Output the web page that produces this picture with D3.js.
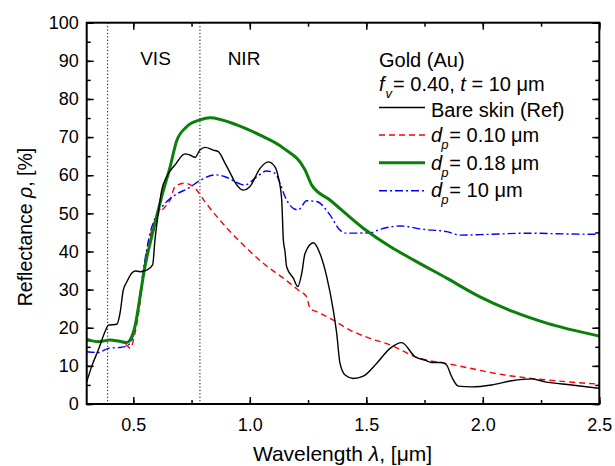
<!DOCTYPE html>
<html>
<head>
<meta charset="utf-8">
<script src="https://cdn.jsdelivr.net/npm/d3@7"></script>
<style>
  body { margin: 0; background: #fff; }
  svg { font-family: "Liberation Sans", Arial, sans-serif; }
</style>
</head>
<body>
<svg id="chart"></svg>
<script>
// wavelength (um) and reflectance (%)
const wlSkin = [0.3, 0.321, 0.35, 0.379, 0.393, 0.429, 0.443, 0.457, 0.472, 0.493, 0.507, 0.529, 0.557, 0.583, 0.593, 0.607, 0.622, 0.643, 0.679, 0.722, 0.743, 0.765, 0.786, 0.808, 0.843, 0.865, 0.894, 0.915, 0.936, 0.972, 1.0, 1.044, 1.079, 1.108, 1.122, 1.137, 1.144, 1.151, 1.158, 1.187, 1.206, 1.223, 1.237, 1.273, 1.301, 1.33, 1.358, 1.373, 1.387, 1.409, 1.444, 1.487, 1.545, 1.602, 1.652, 1.709, 1.752, 1.781, 1.824, 1.845, 1.866, 1.895, 1.952, 2.038, 2.124, 2.21, 2.267, 2.381, 2.5];
const rSkin = [5.8, 9.8, 14.2, 19, 20.7, 20.9, 23.8, 29.9, 32, 34.3, 34.9, 34.7, 35.1, 36.5, 43, 50, 56.1, 59.6, 62.7, 65.6, 65.3, 64.7, 66.6, 67.3, 66.6, 66.2, 63.1, 60.7, 58.2, 56.1, 57, 61.8, 63.5, 62.2, 59.6, 53.5, 43, 40, 36, 33, 30.8, 34.3, 39.5, 42.3, 39.5, 33.4, 24.7, 18.5, 10.7, 7.6, 6.7, 7.3, 10.7, 14.6, 16.1, 12.4, 11.5, 10.9, 10.9, 10.2, 7.2, 4.7, 4.5, 5.0, 6.1, 6.6, 5.8, 5.0, 4.1];

const wlD010 = [0.3, 0.35, 0.4, 0.45, 0.479, 0.486, 0.507, 0.529, 0.543, 0.572, 0.593, 0.636, 0.658, 0.679, 0.722, 0.765, 0.808, 0.865, 0.922, 0.979, 1.058, 1.144, 1.208, 1.244, 1.258, 1.287, 1.344, 1.43, 1.516, 1.602, 1.709, 1.881, 2.095, 2.31, 2.5];
const rD010 = [16.5, 16.5, 16.8, 16.3, 15.0, 14.6, 18.5, 26.5, 34.3, 43.9, 48.3, 51.7, 53.5, 57, 57.9, 56.6, 53, 48.7, 44.8, 41.3, 36.9, 33, 29.9, 28.1, 25.1, 24.2, 22.5, 19.4, 17.2, 15.5, 12.4, 10.2, 7.6, 6.1, 5.2];

const wlD018 = [0.3, 0.35, 0.4, 0.436, 0.472, 0.486, 0.507, 0.529, 0.547, 0.579, 0.622, 0.658, 0.686, 0.729, 0.786, 0.829, 0.944, 1.044, 1.144, 1.237, 1.266, 1.344, 1.487, 1.602, 1.702, 1.845, 1.988, 2.131, 2.274, 2.5];
const rD018 = [17, 16.3, 16.8, 16.5, 16.1, 16.8, 20.3, 28.1, 35.1, 43.9, 54.4, 62.2, 69.0, 72.7, 74.5, 75.1, 73.2, 70.5, 67.1, 61.4, 57.4, 53.5, 46.1, 41.3, 37.8, 33, 28.1, 24.2, 21.2, 17.8];

const wlD10 = [0.3, 0.35, 0.393, 0.45, 0.479, 0.5, 0.521, 0.543, 0.572, 0.6, 0.636, 0.679, 0.736, 0.786, 0.851, 0.894, 0.951, 0.979, 1.03, 1.072, 1.108, 1.13, 1.151, 1.187, 1.208, 1.244, 1.287, 1.344, 1.387, 1.416, 1.516, 1.559, 1.645, 1.745, 1.845, 1.902, 2.031, 2.188, 2.36, 2.5];
const rD10 = [13.7, 13.5, 14.6, 14.9, 15.5, 18.1, 25.5, 35.1, 44.8, 49.6, 52.6, 54.8, 56.6, 58.6, 60.1, 59.6, 57.9, 57.4, 59.6, 61.1, 60.5, 57.9, 54.4, 51.3, 50.9, 53.3, 53.1, 49.6, 45.6, 44.8, 44.9, 45.8, 46.7, 45.8, 45.2, 44.3, 44.5, 44.8, 44.6, 44.5];

const xTicks = [0.5, 1.0, 1.5, 2.0, 2.5];
const yTicks = [0, 10, 20, 30, 40, 50, 60, 70, 80, 90, 100];
const bandEdges = [0.39, 0.786];

const width = 615, height = 466;
const pLeft = 86.7, pRight = 599.3, pTop = 22.7, pBottom = 404;

const svg = d3.select('#chart').attr('width', width).attr('height', height);

const x = d3.scaleLinear().domain([0.3, 2.5]).range([pLeft, pRight]);
const y = d3.scaleLinear().domain([0, 100]).range([pBottom, pTop]);

// band dividers
svg.selectAll('.band')
  .data(bandEdges)
  .enter()
  .append('line')
  .attr('x1', d => x(d)).attr('x2', d => x(d))
  .attr('y1', pTop).attr('y2', pBottom)
  .style('stroke', '#000')
  .style('stroke-width', 1)
  .style('stroke-dasharray', '1.2,2.2');

svg.append('text').attr('x', 155.5).attr('y', 65).attr('text-anchor', 'middle')
  .style('font-size', '19px').text('VIS');
svg.append('text').attr('x', 244).attr('y', 65).attr('text-anchor', 'middle')
  .style('font-size', '19px').text('NIR');

const series = [
  { wl: wlD010, r: rD010, color: '#ff0000', w: 1.4, dash: '6,4' },
  { wl: wlD10, r: rD10, color: '#0000ff', w: 1.4, dash: '8,3,2,3' },
  { wl: wlD018, r: rD018, color: '#0a800a', w: 3, dash: null },
  { wl: wlSkin, r: rSkin, color: '#000', w: 1.4, dash: null }
];

const line = d3.line()
  .x(d => x(d[0]))
  .y(d => y(d[1]))
  .curve(d3.curveMonotoneX);

series.forEach(s => {
  svg.append('path')
    .datum(s.wl.map((w, i) => [w, s.r[i]]))
    .attr('d', line)
    .style('fill', 'none')
    .style('stroke', s.color)
    .style('stroke-width', s.w)
    .style('stroke-dasharray', s.dash);
});

// axes with inward ticks on all four sides
const xMinor = d3.range(0.5, 2.51, 0.25);
const yMinor = d3.range(0, 100.1, 5);

svg.append('g')
  .attr('transform', `translate(0, ${pBottom})`)
  .call(d3.axisBottom(x).tickValues(xMinor).tickSize(-4).tickFormat(''))
  .call(g => g.select('.domain').remove());
svg.append('g')
  .attr('transform', `translate(0, ${pBottom})`)
  .call(d3.axisBottom(x).tickValues(xTicks).tickSize(-7).tickPadding(14).tickFormat(d3.format('.1f')))
  .call(g => g.select('.domain').remove());
svg.append('g')
  .attr('transform', `translate(0, ${pTop})`)
  .call(d3.axisTop(x).tickValues(xMinor).tickSize(-4).tickFormat(''))
  .call(g => g.select('.domain').remove());
svg.append('g')
  .attr('transform', `translate(0, ${pTop})`)
  .call(d3.axisTop(x).tickValues(xTicks).tickSize(-7).tickFormat(''))
  .call(g => g.select('.domain').remove());

svg.append('g')
  .attr('transform', `translate(${pLeft}, 0)`)
  .call(d3.axisLeft(y).tickValues(yMinor).tickSize(-4).tickFormat(''))
  .call(g => g.select('.domain').remove());
svg.append('g')
  .attr('transform', `translate(${pLeft}, 0)`)
  .call(d3.axisLeft(y).tickValues(yTicks).tickSize(-7).tickPadding(8))
  .call(g => g.select('.domain').remove());
svg.append('g')
  .attr('transform', `translate(${pRight}, 0)`)
  .call(d3.axisRight(y).tickValues(yMinor).tickSize(-4).tickFormat(''))
  .call(g => g.select('.domain').remove());
svg.append('g')
  .attr('transform', `translate(${pRight}, 0)`)
  .call(d3.axisRight(y).tickValues(yTicks).tickSize(-7).tickFormat(''))
  .call(g => g.select('.domain').remove());

svg.selectAll('.tick line').style('stroke', '#000').style('stroke-width', 1.5);
svg.selectAll('.tick text')
  .style('font-family', '"Liberation Sans", Arial, sans-serif')
  .style('font-size', '18px')
  .style('fill', '#000');

svg.append('rect')
  .attr('x', pLeft).attr('y', pTop)
  .attr('width', pRight - pLeft).attr('height', pBottom - pTop)
  .style('fill', 'none').style('stroke', '#000').style('stroke-width', 2);

// axis titles
const xt = svg.append('text').attr('x', 342.5).attr('y', 461)
  .attr('text-anchor', 'middle').style('font-size', '21px');
xt.append('tspan').text('Wavelength ');
xt.append('tspan').style('font-style', 'italic').text('λ');
xt.append('tspan').text(', [μm]');

const yt = svg.append('text')
  .attr('transform', 'translate(32, 227) rotate(-90)')
  .attr('text-anchor', 'middle').style('font-size', '19.5px');
yt.append('tspan').text('Reflectance ');
yt.append('tspan').style('font-style', 'italic').text('ρ');
yt.append('tspan').text(', [%]');

// legend
const lx = 379, lineEnd = 425, tx = 431, fs = '20px';
svg.append('text').attr('x', lx).attr('y', 66.5).style('font-size', fs).text('Gold (Au)');
const fv = svg.append('text').attr('x', lx).attr('y', 91).style('font-size', fs);
fv.append('tspan').style('font-style', 'italic').text('f');
fv.append('tspan').attr('dy', 7).attr('dx', 1).style('font-size', '13px').style('font-style', 'italic').text('v');
fv.append('tspan').attr('dy', -7).attr('dx', 1).text('= 0.40, ');
fv.append('tspan').style('font-style', 'italic').text('t');
fv.append('tspan').text(' = 10 μm');

const legendRows = [
  { label: null, text: 'Bare skin (Ref)', base: 116.7, ly: 107.5, s: series[3] },
  { label: 'd', text: '= 0.10 μm', base: 142, ly: 135, s: series[0] },
  { label: 'd', text: '= 0.18 μm', base: 169.5, ly: 162.7, s: series[2] },
  { label: 'd', text: '= 10 μm', base: 197, ly: 190.7, s: series[1] }
];

legendRows.forEach(row => {
  svg.append('line')
    .attr('x1', lx).attr('x2', lineEnd)
    .attr('y1', row.ly).attr('y2', row.ly)
    .style('stroke', row.s.color)
    .style('stroke-width', row.s.w)
    .style('stroke-dasharray', row.s.dash);
  const t = svg.append('text').attr('x', tx).attr('y', row.base).style('font-size', fs);
  if (row.label) {
    t.append('tspan').style('font-style', 'italic').text(row.label);
    t.append('tspan').attr('dy', 7).attr('dx', -1).style('font-size', '13px').style('font-style', 'italic').text('p');
    t.append('tspan').attr('dy', -7).attr('dx', 1).text(row.text);
  } else {
    t.text(row.text);
  }
});
</script>
</body>
</html>
